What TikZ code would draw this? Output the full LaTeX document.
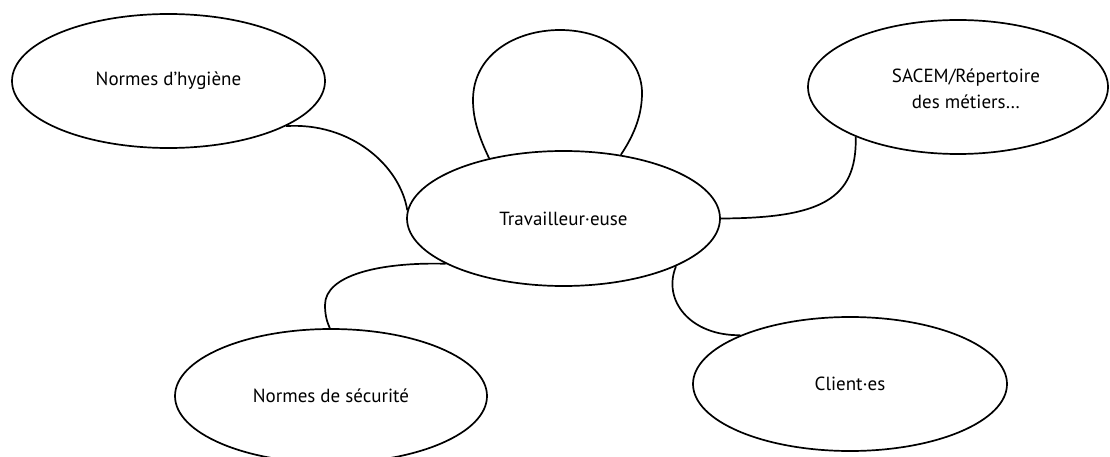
\documentclass[tikz,border=0pt]{standalone}
\usepackage{fontspec}
\setmainfont{PT Sans}
\usetikzlibrary{shapes.geometric}
\begin{document}
\begin{tikzpicture}[x=1pt,y=-1pt,
  bubble/.style={draw=black,ellipse,line width=1.7pt,inner sep=0pt,font=\fontsize{19}{26}\selectfont,align=center},
  lab/.style={font=\fontsize{19}{26}\selectfont,align=center,inner sep=0pt},
  link/.style={draw=black,line width=1.7pt}]
\useasboundingbox (0,0) rectangle (1110,457);
\node[bubble,minimum width=313pt,minimum height=134pt] (h) at (168.5,81) {Normes d’hygiène};
\node[bubble,minimum width=313pt,minimum height=135pt] (t) at (563.5,218.5) {Travailleur·euse};
\node[bubble,minimum width=300pt,minimum height=134pt] (s) at (958,87) {};
\node[lab] (sl) at (966,89) {SACEM/Répertoire\\des métiers…};
\node[bubble,minimum width=312pt,minimum height=134pt] (c) at (331,396) {Normes de sécurité};
\node[bubble,minimum width=314pt,minimum height=134pt] (k) at (850,384) {Client·es};
\coordinate (loopL) at (473,100);
\coordinate (loopT) at (560,30);
\coordinate (loopR) at (642,93);
\coordinate (secL) at (325,305);
% connectors
\draw[link] (h.-21.9) .. controls (350,122) and (400,165) .. (t.177);
\draw[link] (t.141.2) .. controls (478,135) and (473,118) .. (loopL)
  .. controls (473,55) and (515,30) .. (loopT)
  .. controls (608,30) and (642,58) .. (loopR)
  .. controls (642,118) and (632,138) .. (t.48.8);
\draw[link] (s.206.3) .. controls (857,200) and (820,218) .. (t.0);
\draw[link] (t.201.5) .. controls (380,262) and (325,275) .. (secL)
  .. controls (325,315) and (327,322) .. (c.91);
\draw[link] (t.-23) .. controls (662,300) and (690,336) .. (k.156.8);
\end{tikzpicture}
\end{document}
